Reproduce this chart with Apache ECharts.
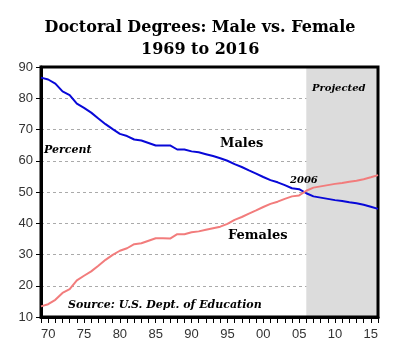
<!DOCTYPE html>
<html>
<head>
<meta charset="utf-8">
<script src="https://cdn.jsdelivr.net/npm/echarts@6/dist/echarts.min.js"></script>
<style>
  html, body { margin: 0; padding: 0; background: #fff; }
  #chart { width: 400px; height: 350px; }
</style>
</head>
<body>
<div id="chart"></div>
<script>
// Share of doctoral degrees by sex, 1969-2016 (2006 onward projected)
const years = [];
for (let y = 1969; y <= 2016; y++) years.push(y);

const males = [
  86.6, 86.0, 84.7, 82.2, 81.0, 78.3, 76.9, 75.4, 73.5, 71.7,
  70.1, 68.6, 67.9, 66.8, 66.5, 65.7, 64.9, 64.9, 64.9, 63.6,
  63.6, 63.0, 62.7, 62.1, 61.5, 60.8, 60.0, 58.9, 58.0, 56.9,
  55.9, 54.8, 53.8, 53.1, 52.2, 51.2, 50.9, 49.6, 48.6, 48.2,
  47.8, 47.4, 47.1, 46.7, 46.4, 45.9, 45.3, 44.6
];

const females = [
  13.4, 14.1, 15.5, 17.7, 18.9, 21.7, 23.2, 24.6, 26.4, 28.3,
  29.9, 31.2, 32.0, 33.3, 33.6, 34.4, 35.2, 35.2, 35.1, 36.5,
  36.5, 37.1, 37.4, 37.9, 38.4, 38.9, 39.8, 41.1, 42.0, 43.1,
  44.1, 45.2, 46.2, 46.9, 47.8, 48.6, 48.9, 50.4, 51.4, 51.8,
  52.2, 52.6, 52.9, 53.3, 53.6, 54.1, 54.7, 55.4
];

const projectedFrom = 2006;
const projectedTo = 2016;

const yTicks = { min: 10, max: 90, step: 10 };

const serif = '"DejaVu Serif", "Liberation Serif", serif';
const sans = '"Liberation Sans", Arial, sans-serif';

const chart = echarts.init(document.getElementById('chart'), null, { renderer: 'canvas' });

chart.setOption({
  animation: false,
  backgroundColor: '#ffffff',
  grid: {
    left: 41, right: 22, top: 67, bottom: 33,
    show: true,
    backgroundColor: 'transparent',
    borderColor: '#000',
    borderWidth: 3,
    z: 3
  },
  xAxis: {
    type: 'category',
    data: years,
    boundaryGap: false,
    axisLine: { show: true, lineStyle: { color: '#000', width: 3 } },
    axisTick: { show: true, interval: 0, length: 6, inside: false, lineStyle: { color: '#000', width: 1 } },
    axisLabel: {
      interval: (i, v) => Number(v) % 5 === 0,
      formatter: v => String(v).slice(2),
      color: '#333',
      fontFamily: sans,
      fontSize: 13,
      margin: 11
    },
    splitLine: { show: false }
  },
  yAxis: {
    type: 'value',
    min: yTicks.min,
    max: yTicks.max,
    interval: yTicks.step,
    axisLine: { show: true, lineStyle: { color: '#000', width: 3 } },
    axisTick: { show: true, length: 5, lineStyle: { color: '#000', width: 1 } },
    axisLabel: { color: '#333', fontFamily: sans, fontSize: 13, margin: 8 },
    splitLine: { show: true, lineStyle: { color: '#aaa', type: [3, 3], width: 1 } }
  },
  series: [
    {
      name: 'Males',
      type: 'line',
      data: males,
      symbol: 'none',
      lineStyle: { color: '#0808d8', width: 2 },
      z: 4,
      markArea: {
        silent: true,
        itemStyle: { color: '#dcdcdc' },
        data: [[{ xAxis: String(projectedFrom) }, { xAxis: String(projectedTo) }]]
      }
    },
    {
      name: 'Females',
      type: 'line',
      data: females,
      symbol: 'none',
      lineStyle: { color: '#f27c7c', width: 2 },
      z: 4
    }
  ],
  graphic: [
    { type: 'text', left: 'center', x: 0, top: 20, style: { text: 'Doctoral Degrees: Male vs. Female', font: 'bold 16px ' + serif, fill: '#000' }, z: 10 },
    { type: 'text', left: 141, top: 42, style: { text: '1969 to 2016', font: 'bold 16px ' + serif, fill: '#000' }, z: 10 },
    { type: 'text', left: 44, top: 145, style: { text: 'Percent', font: 'italic bold 11px ' + serif, fill: '#000' }, z: 10 },
    { type: 'text', left: 220, top: 137, style: { text: 'Males', font: 'bold 13px ' + serif, fill: '#000' }, z: 10 },
    { type: 'text', left: 228, top: 229, style: { text: 'Females', font: 'bold 13px ' + serif, fill: '#000' }, z: 10 },
    { type: 'text', left: 290, top: 175, style: { text: '2006', font: 'italic bold 10px ' + serif, fill: '#000' }, z: 10 },
    { type: 'text', left: 312, top: 83, style: { text: 'Projected', font: 'italic bold 10px ' + serif, fill: '#000' }, z: 10 },
    { type: 'text', left: 68, top: 300, style: { text: 'Source: U.S. Dept. of Education', font: 'italic bold 11px ' + serif, fill: '#000' }, z: 10 }
  ]
});
</script>
</body>
</html>
